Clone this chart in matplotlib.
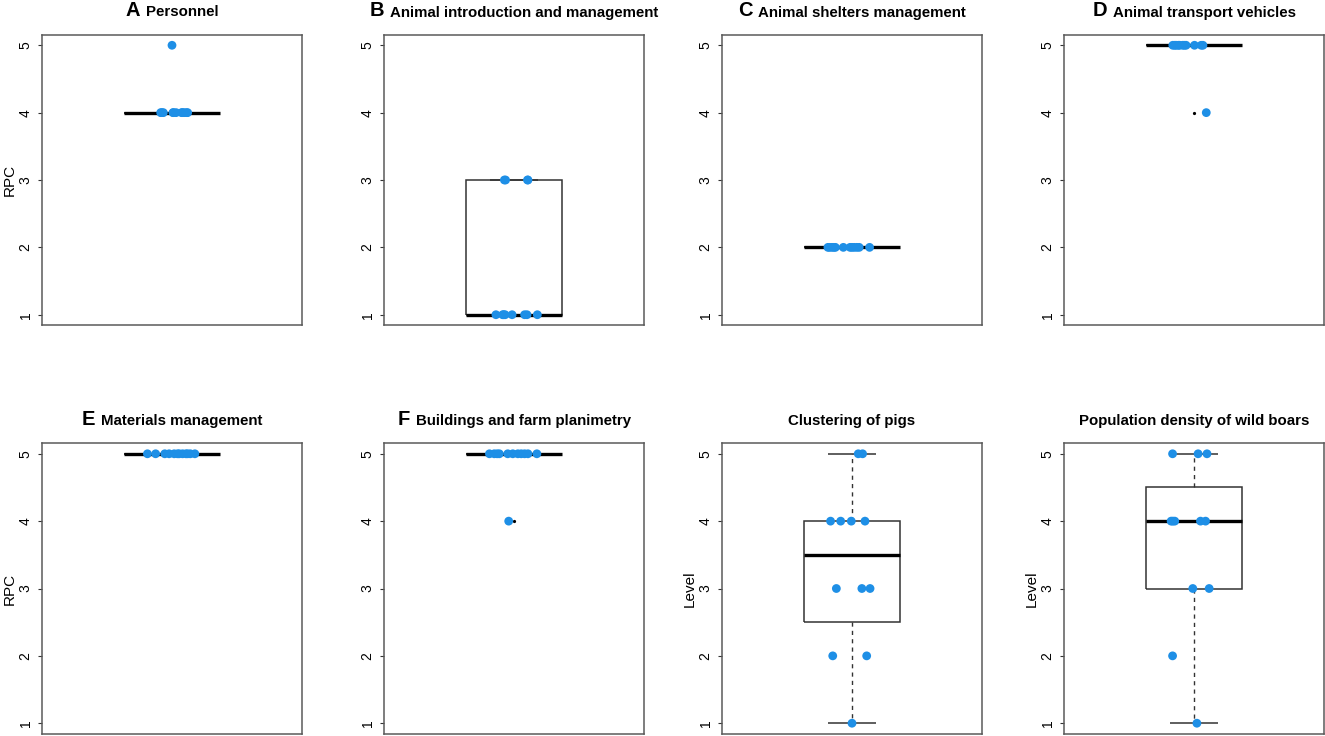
import numpy as np
import matplotlib.pyplot as plt

plt.rcParams['font.family'] = ['Liberation Sans', 'DejaVu Sans']

letters = ['A', 'B', 'C', 'D', 'E', 'F', '', '']
titles = ['Personnel', 'Animal introduction and management', 'Animal shelters management',
          'Animal transport vehicles', 'Materials management', 'Buildings and farm planimetry',
          'Clustering of pigs', 'Population density of wild boars']
ylabels = ['RPC', '', '', '', 'RPC', '', 'Level', 'Level']

# scores per respondent, with the horizontal jitter
a_vals = [5, 4, 4, 4, 4, 4, 4, 4, 4, 4, 4, 4]
a_jit = [0.000, -0.047, -0.042, -0.036, 0.004, 0.006, 0.017, 0.040, 0.043, 0.050, 0.060, 0.065]
b_vals = [3, 3, 3, 3, 1, 1, 1, 1, 1, 1, 1, 1]
b_jit = [-0.040, -0.035, 0.056, 0.058, -0.075, -0.047, -0.043, -0.037, -0.008, 0.044, 0.054, 0.097]
c_vals = [2, 2, 2, 2, 2, 2, 2, 2, 2, 2, 2, 2]
c_jit = [-0.100, -0.093, -0.083, -0.075, -0.069, -0.036, -0.008, 0.000, 0.009, 0.020, 0.030, 0.073]
d_vals = [5, 5, 5, 5, 5, 5, 5, 5, 5, 5, 5, 4]
d_jit = [-0.088, -0.080, -0.074, -0.065, -0.060, -0.047, -0.040, -0.033, 0.002, 0.030, 0.037, 0.051]
e_vals = [5, 5, 5, 5, 5, 5, 5, 5, 5, 5, 5, 5]
e_jit = [-0.102, -0.068, -0.030, -0.012, 0.009, 0.023, 0.030, 0.044, 0.058, 0.065, 0.076, 0.095]
f_vals = [5, 5, 5, 5, 5, 5, 5, 5, 5, 5, 5, 4]
f_jit = [-0.102, -0.082, -0.070, -0.061, -0.026, -0.005, 0.016, 0.030, 0.044, 0.058, 0.095, -0.022]
g_vals = [5, 5, 4, 4, 4, 4, 3, 3, 3, 2, 2, 1]
g_jit = [0.026, 0.044, -0.089, -0.047, -0.003, 0.054, -0.065, 0.041, 0.075, -0.080, 0.061, 0.000]
h_vals = [5, 5, 5, 4, 4, 4, 4, 4, 3, 3, 2, 1]
h_jit = [-0.089, 0.017, 0.054, -0.095, -0.088, -0.080, 0.027, 0.048, -0.005, 0.063, -0.089, 0.012]

all_vals = [a_vals, b_vals, c_vals, d_vals, e_vals, f_vals, g_vals, h_vals]
all_jit = [a_jit, b_jit, c_jit, d_jit, e_jit, f_jit, g_jit, h_jit]

BLUE = '#1E8FE6'
GRAY = '#333333'


def r_boxstats(x):
    # same hinges/whiskers as R's boxplot.stats (coef = 1.5)
    x = np.sort(np.asarray(x, dtype=float))
    n = len(x)
    n4 = np.floor((n + 3) / 2) / 2
    d = np.array([1, n4, (n + 1) / 2, n + 1 - n4, n]) - 1
    fn = 0.5 * (x[np.floor(d).astype(int)] + x[np.ceil(d).astype(int)])
    iqr = fn[3] - fn[1]
    lo, hi = fn[1] - 1.5 * iqr, fn[3] + 1.5 * iqr
    inside = x[(x >= lo) & (x <= hi)]
    out = x[(x < lo) | (x > hi)]
    st = dict(med=fn[2], q1=fn[1], q3=fn[3], whislo=inside.min(), whishi=inside.max(), fliers=[])
    return st, out


W, H = 1325, 736
fig = plt.figure(figsize=(W / 100, H / 100), dpi=100)

col_left = [42, 384, 722, 1064]
row_top = [34.5, 443]
pw, ph = 260, 291

title_parts = []
for i in range(8):
    r, c = divmod(i, 4)
    left = col_left[c]
    top = row_top[r]
    ax = fig.add_axes([left / W, 1 - (top + ph) / H, pw / W, ph / H])

    st, out = r_boxstats(all_vals[i])
    ax.bxp([st], positions=[1], widths=0.4, showfliers=False, patch_artist=False,
           boxprops=dict(color=GRAY, lw=1.1, solid_capstyle='butt', solid_joinstyle='miter'),
           medianprops=dict(color='black', lw=2.4, solid_capstyle='butt'),
           whiskerprops=dict(color=GRAY, lw=1.0, linestyle=(0, (3, 3))),
           capprops=dict(color=GRAY, lw=1.1, solid_capstyle='butt'))
    if len(out):
        ax.plot(np.ones(len(out)), out, 'o', color='black', ms=1.3, zorder=3)

    xs = 1 + np.array(all_jit[i])
    ax.scatter(xs, all_vals[i], s=40, color=BLUE, edgecolors='none', zorder=4)

    ax.set_xlim(0.46, 1.54)
    ax.set_ylim(0.84, 5.16)
    ax.set_xticks([])
    ax.set_yticks([1, 2, 3, 4, 5])
    ax.tick_params(axis='y', length=3.2, width=0.8, color=GRAY, pad=3.5, labelsize=10)
    for lab in ax.get_yticklabels():
        lab.set_rotation(90)
        lab.set_va('center')
    for sp in ax.spines.values():
        sp.set_color('#5a5a5a')
        sp.set_linewidth(1.1)
    if ylabels[i]:
        ax.set_ylabel(ylabels[i], fontsize=11)
        ax.yaxis.set_label_coords(-25 / pw, 0.5)

    ybase = 1 - (top - 18) / H
    cx = (left + pw / 2) / W
    t1 = fig.text(cx, ybase, letters[i], fontsize=14.5, fontweight='bold', va='baseline', ha='left')
    t2 = fig.text(cx, ybase, titles[i], fontsize=10.8, fontweight='bold', va='baseline', ha='left')
    title_parts.append((cx, t1, t2))

# center letter + title together over each panel
fig.canvas.draw()
rend = fig.canvas.get_renderer()
for cx, t1, t2 in title_parts:
    w1 = t1.get_window_extent(rend).width if t1.get_text() else 0
    gap = 6 if t1.get_text() else 0
    w2 = t2.get_window_extent(rend).width
    x0 = cx * W - (w1 + gap + w2) / 2
    t1.set_x(x0 / W)
    t2.set_x((x0 + w1 + gap) / W)

fig.savefig('out.png', dpi=100)
